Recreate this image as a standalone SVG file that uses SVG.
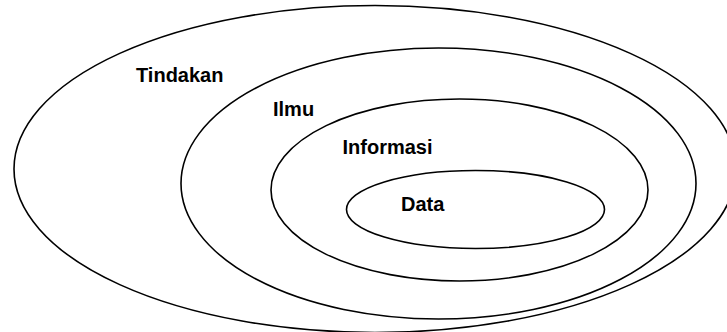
<svg xmlns="http://www.w3.org/2000/svg" width="727" height="332" viewBox="0 0 727 332">
  <style>
    .ring { fill: none; stroke: #000; stroke-width: 1.6; }
    .label { font-family: "Liberation Sans", Arial, sans-serif; font-weight: bold; font-size: 20px; fill: #000; }
  </style>
  <rect width="727" height="332" fill="#fff"/>
  <!-- nested levels, outermost first -->
  <g id="tindakan">
    <ellipse class="ring" cx="375" cy="169" rx="361" ry="163.5"/>
    <text class="label" x="136" y="82">Tindakan</text>
  </g>
  <g id="ilmu">
    <ellipse class="ring" cx="438.5" cy="183.5" rx="257.5" ry="135.5"/>
    <text class="label" x="273" y="115.5">Ilmu</text>
  </g>
  <g id="informasi">
    <ellipse class="ring" cx="459.5" cy="190" rx="188.5" ry="91"/>
    <text class="label" x="342.5" y="154">Informasi</text>
  </g>
  <g id="data">
    <ellipse class="ring" cx="475.5" cy="209.5" rx="129" ry="39"/>
    <text class="label" x="401" y="211">Data</text>
  </g>
</svg>
